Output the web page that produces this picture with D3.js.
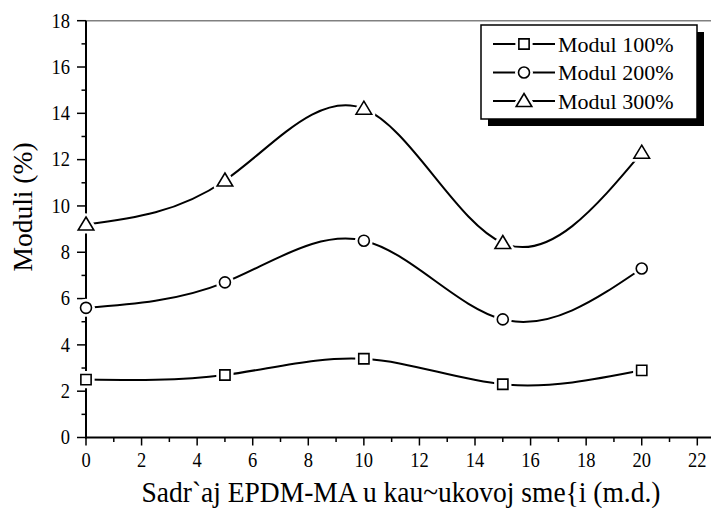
<!DOCTYPE html>
<html>
<head>
<meta charset="utf-8">
<script src="https://cdn.jsdelivr.net/npm/d3@7/dist/d3.min.js"></script>
<style>
  html, body { margin: 0; padding: 0; background: #fff; }
  svg { display: block; }
</style>
</head>
<body>
<svg id="chart" width="711" height="508"></svg>
<script>
// EPDM-MA content (m.d.)
const contents = [0, 5, 10, 15, 20];
// Modulus values for each elongation level
const modul100 = [2.5, 2.7, 3.4, 2.3, 2.9];
const modul200 = [5.6, 6.7, 8.5, 5.1, 7.3];
const modul300 = [9.2, 11.1, 14.2, 8.4, 12.3];
const seriesNames = ["Modul 100%", "Modul 200%", "Modul 300%"];
const seriesSymbols = ["square", "circle", "triangle"];
const xTicks = [0, 2, 4, 6, 8, 10, 12, 14, 16, 18, 20, 22];
const yTicks = [0, 2, 4, 6, 8, 10, 12, 14, 16, 18];

const FONT = "'Liberation Serif', Tinos, 'Times New Roman', serif";

const series = [modul100, modul200, modul300].map((vals, i) => ({
  name: seriesNames[i],
  symbol: seriesSymbols[i],
  points: contents.map((c, j) => ({ x: c, y: vals[j] }))
}));

const svg = d3.select("#chart").attr("font-family", FONT);
const plotLeft = 86, plotTop = 20.7, plotBottom = 437.5;

const x = d3.scaleLinear().domain([0, 22.5]).range([plotLeft, plotLeft + 22.5 * (697.3 - 86) / 22]);
const y = d3.scaleLinear().domain([0, 18]).range([plotBottom, plotTop]);

// top frame line
svg.append("line")
  .attr("x1", plotLeft).attr("x2", 711)
  .attr("y1", plotTop).attr("y2", plotTop)
  .attr("stroke", "#808080").attr("stroke-width", 1.5);

// minor ticks
const xMinor = d3.range(1, 23, 2);
const yMinor = d3.range(1, 18, 2);

const xAxis = svg.append("g").attr("transform", `translate(0,${plotBottom})`);
xAxis.append("line").attr("x1", plotLeft - 1).attr("x2", 711).attr("stroke", "#000").attr("stroke-width", 2);
xAxis.selectAll(".maj").data(xTicks).join("line").attr("class", "maj")
  .attr("x1", d => x(d)).attr("x2", d => x(d)).attr("y1", 0).attr("y2", 8)
  .attr("stroke", "#000").attr("stroke-width", 1.5);
xAxis.selectAll(".min").data(xMinor).join("line").attr("class", "min")
  .attr("x1", d => x(d)).attr("x2", d => x(d)).attr("y1", 0).attr("y2", 4.5)
  .attr("stroke", "#000").attr("stroke-width", 1.5);
xAxis.selectAll("text").data(xTicks).join("text")
  .attr("transform", d => `translate(${x(d)},29.5) scale(1,1.08)`)
  .attr("text-anchor", "middle").attr("font-size", 18.5)
  .text(d => d);

const yAxis = svg.append("g").attr("transform", `translate(${plotLeft},0)`);
yAxis.append("line").attr("y1", plotTop).attr("y2", plotBottom + 1).attr("stroke", "#000").attr("stroke-width", 2);
yAxis.selectAll(".maj").data(yTicks).join("line").attr("class", "maj")
  .attr("y1", d => y(d)).attr("y2", d => y(d)).attr("x1", 0).attr("x2", -9)
  .attr("stroke", "#000").attr("stroke-width", 1.5);
yAxis.selectAll(".min").data(yMinor).join("line").attr("class", "min")
  .attr("y1", d => y(d)).attr("y2", d => y(d)).attr("x1", 0).attr("x2", -4.5)
  .attr("stroke", "#000").attr("stroke-width", 1.5);
yAxis.selectAll("text").data(yTicks).join("text")
  .attr("transform", d => `translate(-16,${y(d) + 6.8}) scale(1,1.08)`)
  .attr("text-anchor", "end").attr("font-size", 18.5)
  .text(d => d);

// axis titles
svg.append("text")
  .attr("transform", "translate(401,501.5) scale(1,1.1)")
  .attr("text-anchor", "middle").attr("font-size", 27.5)
  .text("Sadr`aj EPDM-MA u kau~ukovoj sme{i (m.d.)");
svg.append("text")
  .attr("transform", "translate(32,207) rotate(-90)")
  .attr("text-anchor", "middle").attr("font-size", 27.5)
  .text("Moduli (%)");

// smooth curves through the measured points
const line = d3.line().x(d => x(d.x)).y(d => y(d.y)).curve(d3.curveNatural);

const plot = svg.append("g");
plot.selectAll(".curve").data(series).join("path")
  .attr("class", "curve")
  .attr("d", d => line(d.points))
  .attr("fill", "none").attr("stroke", "#000").attr("stroke-width", 2);

const symbolPath = {
  square: d3.symbol().type(d3.symbolSquare).size(105)(),
  circle: d3.symbol().type(d3.symbolCircle).size(95)(),
  triangle: "M0,-7.5L7.8,5.5L-7.8,5.5Z"
};

function drawMarker(g, sym, halo) {
  if (halo) {
    g.append("path").attr("d", symbolPath[sym])
      .attr("fill", "#fff").attr("stroke", "#fff").attr("stroke-width", 7)
      .attr("stroke-linejoin", "round");
  }
  g.append("path").attr("d", symbolPath[sym])
    .attr("fill", "#fff").attr("stroke", "#000").attr("stroke-width", 1.6);
}

series.forEach(s => {
  s.points.forEach(p => {
    const g = plot.append("g").attr("transform", `translate(${x(p.x)},${y(p.y)})`);
    drawMarker(g, s.symbol, true);
  });
});

// legend with drop shadow
const lg = svg.append("g");
const lx = 481, ly = 25, lw = 216, lh = 94;
lg.append("rect").attr("x", lx + 7).attr("y", ly + 7).attr("width", lw).attr("height", lh).attr("fill", "#000");
lg.append("rect").attr("x", lx).attr("y", ly).attr("width", lw).attr("height", lh)
  .attr("fill", "#fff").attr("stroke", "#000").attr("stroke-width", 1.5);

series.forEach((s, i) => {
  const cy = 44 + i * 28.5;
  lg.append("line").attr("x1", 493).attr("x2", 555).attr("y1", cy).attr("y2", cy)
    .attr("stroke", "#000").attr("stroke-width", 2);
  const g = lg.append("g").attr("transform", `translate(524,${cy})`);
  drawMarker(g, s.symbol, true);
  lg.append("text").attr("x", 558).attr("y", cy + 7.5).attr("font-size", 22).text(s.name);
});
</script>
</body>
</html>
